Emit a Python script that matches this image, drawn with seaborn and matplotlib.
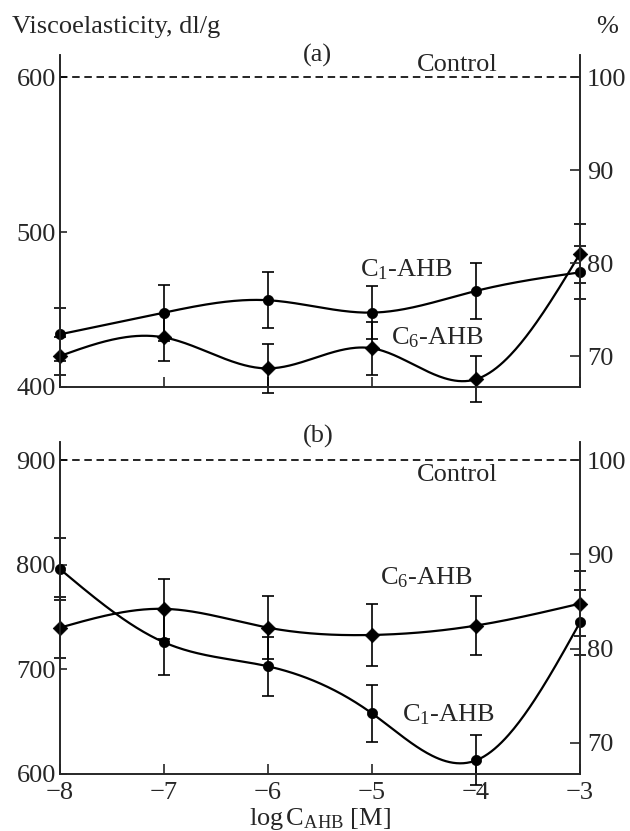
import numpy as np
import matplotlib
matplotlib.use("Agg")
import matplotlib.pyplot as plt
import seaborn as sns

#----------------- datos ----------------
log_c = [-8, -7, -6, -5, -4, -3]

# panel (a)
c1_a = [434, 448, 456, 448, 462, 474]
c1_a_err = [17, 18, 18, 17, 18, 17]
c6_a = [420, 432, 412, 425, 405, 486]
c6_a_err = [12, 15, 16, 17, 15, 19]
control_a = 600

# panel (b)
c1_b = [796, 726, 703, 658, 613, 745]
c1_b_err = [30, 31, 28, 27, 24, 31]
c6_b = [740, 758, 740, 733, 742, 763]
c6_b_err = [29, 29, 30, 30, 28, 31]
control_b = 900

x_ticks = [-8, -7, -6, -5, -4, -3]
x_labels = ['\u22128', '\u22127', '\u22126', '\u22125', '\u22124', '\u22123']
pct_ticks = [70, 80, 90, 100]


def spline(x, y, n=300):
    # spline cubica natural para la curva suave
    x = np.asarray(x, float)
    y = np.asarray(y, float)
    k = len(x)
    h = np.diff(x)
    A = np.zeros((k, k))
    b = np.zeros(k)
    A[0, 0] = A[-1, -1] = 1
    for i in range(1, k - 1):
        A[i, i - 1] = h[i - 1]
        A[i, i] = 2 * (h[i - 1] + h[i])
        A[i, i + 1] = h[i]
        b[i] = 6 * ((y[i + 1] - y[i]) / h[i] - (y[i] - y[i - 1]) / h[i - 1])
    M = np.linalg.solve(A, b)
    xs = np.linspace(x[0], x[-1], n)
    idx = np.clip(np.searchsorted(x, xs) - 1, 0, k - 2)
    x0, x1 = x[idx], x[idx + 1]
    hh = x1 - x0
    t0 = x1 - xs
    t1 = xs - x0
    ys = (M[idx] * t0 ** 3 + M[idx + 1] * t1 ** 3) / (6 * hh) \
        + (y[idx] / hh - M[idx] * hh / 6) * t0 \
        + (y[idx + 1] / hh - M[idx + 1] * hh / 6) * t1
    return xs, ys


sns.set_style("ticks")
plt.rcParams['font.family'] = ['Liberation Serif', 'DejaVu Serif']
plt.rcParams['mathtext.fontset'] = 'custom'
plt.rcParams['mathtext.rm'] = 'Liberation Serif'
plt.rcParams['mathtext.it'] = 'Liberation Serif:italic'
plt.rcParams['axes.linewidth'] = 1.2

fs = 19

fig = plt.figure(figsize=(6.3, 8.31), dpi=100)
ax_a = fig.add_axes([0.0952, 0.5343, 0.8254, 0.399])
ax_b = fig.add_axes([0.0952, 0.0686, 0.8254, 0.400])


def draw_panel(ax, c1, c1_err, c6, c6_err, control, ylim, yticks, ratio):
    for vals, errs, mk, ms in [(c1, c1_err, 'o', 55), (c6, c6_err, 'D', 55)]:
        xs, ys = spline(log_c, vals)
        sns.lineplot(x=xs, y=ys, ax=ax, color='black', lw=1.6, sort=False)
        ax.errorbar(log_c, vals, yerr=errs, fmt='none', ecolor='black',
                    elinewidth=1.2, capsize=4.5, capthick=1.2, clip_on=False)
        sns.scatterplot(x=log_c, y=vals, ax=ax, marker=mk, s=ms, color='black',
                        edgecolor='black', linewidth=0.5, clip_on=False, zorder=5)
    ax.axhline(control, color='black', lw=1.2, ls=(0, (4.5, 2.8)))
    ax.set_xlim(-8, -3)
    ax.set_ylim(*ylim)
    ax.set_xticks(x_ticks)
    ax.set_yticks(yticks)
    ax.spines['top'].set_visible(False)
    ax.tick_params(axis='y', direction='in', length=5, width=1.2, labelsize=fs, pad=3)
    ax.tick_params(axis='x', direction='in', length=7, width=1.2, labelsize=fs, pad=6)
    ax.set_xlabel('')
    ax.set_ylabel('')
    # eje derecho en porcentaje del control
    ax2 = ax.twinx()
    ax2.set_ylim(ylim[0] / ratio, ylim[1] / ratio)
    ax2.set_yticks(pct_ticks)
    ax2.spines['top'].set_visible(False)
    ax2.tick_params(axis='y', direction='in', length=7, width=1.2, labelsize=fs, pad=5)
    return ax2


draw_panel(ax_a, c1_a, c1_a_err, c6_a, c6_a_err, control_a, (400, 614), [400, 500, 600], 6)
draw_panel(ax_b, c1_b, c1_b_err, c6_b, c6_b_err, control_b, (600, 918), [600, 700, 800, 900], 9)

ax_a.set_xticklabels([])
ax_b.set_xticklabels(x_labels)
ax_b.set_xlabel(r'log$\,$C$_{\mathrm{AHB}}$ [M]', fontsize=fs, labelpad=1)

# textos panel (a)
ax_a.text(-5.52, 1.0, '(a)', transform=ax_a.get_xaxis_transform(),
          ha='center', va='center', fontsize=fs)
ax_a.text(-4.18, 0.972, 'Control', transform=ax_a.get_xaxis_transform(),
          ha='center', va='center', fontsize=fs)
ax_a.text(-4.67, 476, r'C$_1$-AHB', ha='center', va='center', fontsize=fs)
ax_a.text(-4.37, 432, r'C$_6$-AHB', ha='center', va='center', fontsize=fs)

# textos panel (b)
ax_b.text(-5.52, 1.014, '(b)', transform=ax_b.get_xaxis_transform(),
          ha='center', va='center', fontsize=fs)
ax_b.text(-4.18, 0.9, 'Control', transform=ax_b.get_xaxis_transform(),
          ha='center', va='center', fontsize=fs)
ax_b.text(-4.48, 788, r'C$_6$-AHB', ha='center', va='center', fontsize=fs)
ax_b.text(-4.27, 657, r'C$_1$-AHB', ha='center', va='center', fontsize=fs)

fig.text(12 / 630, 1 - 33 / 831, 'Viscoelasticity, dl/g', ha='left', va='baseline', fontsize=19)
fig.text(607 / 630, 1 - 33 / 831, '%', ha='center', va='baseline', fontsize=19)

fig.savefig('out.png', dpi=100)
